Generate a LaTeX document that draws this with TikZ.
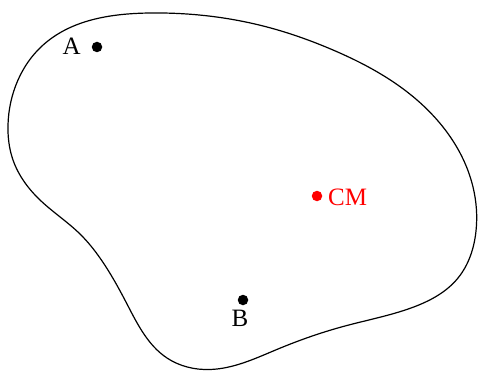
\documentclass[tikz,border=0pt]{standalone}
\usepackage{fontspec}
\setmainfont{Liberation Serif}
\usetikzlibrary{hobby}
\begin{document}
\begin{tikzpicture}[x=1pt,y=-1pt,
  lbl/.style={font=\fontsize{25}{30}\selectfont, inner sep=0pt},
  dot/.style={circle, fill=black, inner sep=0pt, minimum size=10.5pt}]
\useasboundingbox (0,0) rectangle (478,371);
\draw[line width=1.2pt, use Hobby shortcut, closed=true]
 (150,13) .. (267,27) .. (333,50) .. (417,100) .. (473,187) .. (476,231)
 .. (458,278) .. (411,308) .. (345,326) .. (278,349) .. (210,369.5)
 .. (167,358) .. (127,304) .. (100,258) .. (80,234) .. (40,200)
 .. (13,160) .. (8,125) .. (18,80) .. (42,46);
\node[dot] (a) at (97,47) {};
\node[lbl, anchor=east] (la) at (81,46) {A};
\node[dot] (b) at (243,300) {};
\node[lbl] (lb) at (240,318) {B};
\node[dot, fill=red] (cm) at (317,196) {};
\node[lbl, anchor=west, text=red] (lcm) at (328,197) {CM};
\end{tikzpicture}
\end{document}
